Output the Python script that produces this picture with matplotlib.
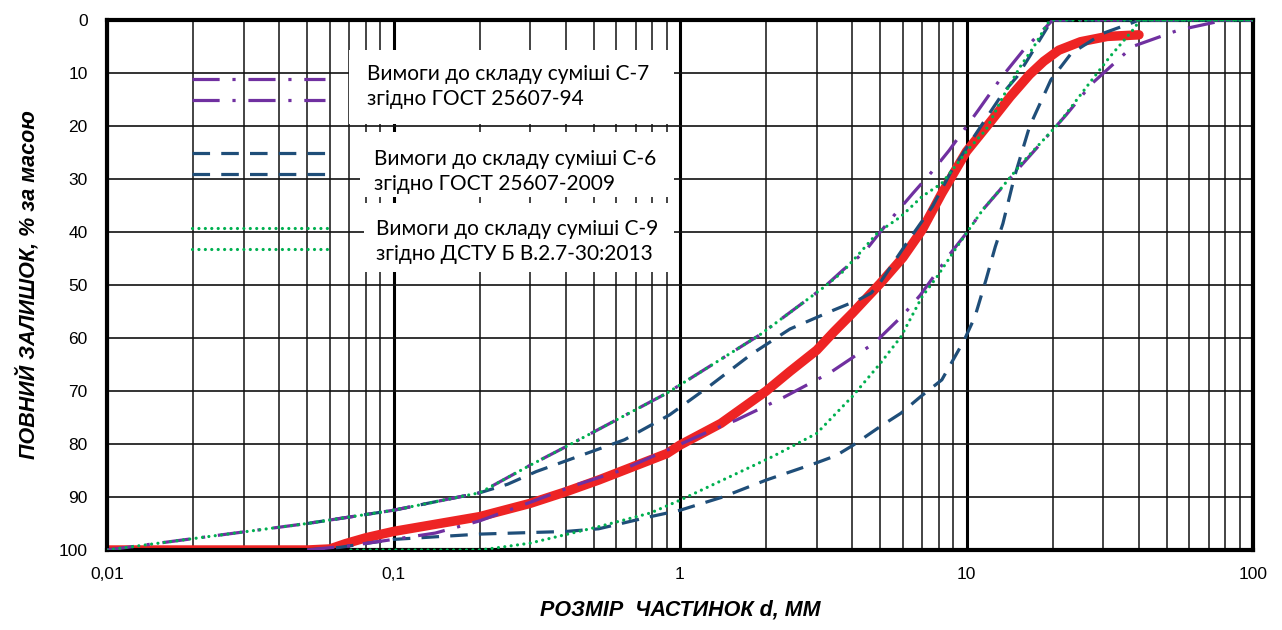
import matplotlib
matplotlib.use("Agg")
import matplotlib.pyplot as plt
from matplotlib.lines import Line2D
from matplotlib.patches import Rectangle
from matplotlib.ticker import LogLocator, NullFormatter

# particle size, mm / total retained, %
red_x = [0.01, 0.05, 0.06, 0.068, 0.08, 0.1, 0.2, 0.3, 0.4, 0.52, 0.9, 1.0, 1.39,
         2.0, 2.42, 3.0, 3.45, 4.0, 5.0, 6.0, 7.0, 8.2, 10, 12, 14.2, 16.6, 18.6,
         21, 25, 31, 40]
red_y = [100, 100, 99.8, 98.8, 97.7, 96.5, 93.7, 91.2, 89, 86.8, 81.8, 80.2, 76.1,
         70, 66.3, 62.3, 58.8, 55.3, 49.7, 44.8, 39.6, 32.7, 24.8, 19.5, 14.5, 10.3,
         7.8, 5.7, 4.1, 3.1, 2.8]

c7_top_x = [0.01, 0.05, 0.1, 0.2, 0.3, 0.4, 0.9, 1.9, 3.2, 3.7, 4.4, 5.0, 5.6,
            6.5, 7.5, 8.7, 11.0, 13.3, 15.8, 20, 100]
c7_top_y = [100, 95, 92.5, 89.2, 84, 80.5, 70.4, 59.4, 50.3, 47.2, 43.8, 40, 36.8,
            32.7, 28.9, 24.6, 17, 10.7, 5.7, 0, 0]
c7_bot_x = [0.05, 0.07, 0.1, 0.14, 0.2, 0.3, 0.43, 0.62, 0.96, 1.3, 1.57, 2.3,
            3.35, 4.78, 6.0, 6.9, 8.8, 10, 11.4, 15.2, 22.2, 27.4, 38, 55, 80, 100]
c7_bot_y = [100, 99.2, 98, 96.8, 94.5, 91, 87.8, 85, 80.5, 77.3, 75.5, 71.2,
            66.5, 60.9, 55.7, 51.9, 44, 40.2, 35.8, 28, 18, 12, 5, 1.9, 0, 0]

c6_top_x = [0.05, 0.1, 0.2, 0.25, 0.315, 0.64, 0.92, 1.28, 1.77, 2.42, 3.45, 4.2,
            4.65, 5.0, 6.2, 7.6, 8.9, 11.4, 13.4, 15, 16.6, 19.2, 20, 100]
c6_top_y = [95, 92.5, 89.2, 87.6, 85.2, 79.2, 74.5, 68.9, 63.1, 58.3, 54.7, 52.8,
            51.5, 49.5, 42, 35.2, 28.3, 19.5, 13.8, 10.7, 6.9, 1.3, 0, 0]
c6_bot_x = [0.05, 0.065, 0.1, 0.2, 0.4, 0.52, 0.79, 1.0, 1.41, 2.0, 2.98, 3.5,
            4.0, 5.0, 5.9, 6.9, 8.2, 9.8, 10.7, 11.7, 12.6, 13.4, 14.7, 16.6, 19.7,
            23.2, 30, 38, 40, 100]
c6_bot_y = [100, 99.5, 98, 97, 96.5, 96, 93.7, 92.5, 90, 86.8, 83.6, 82.2,
            80.3, 76.7, 74.2, 71.1, 67.9, 60.5, 56, 49, 42.8, 38.4, 29.6, 20.1, 11.3,
            6.3, 2.5, 0.5, 0, 0]

c9_top_x = [0.01, 0.05, 0.1, 0.2, 0.3, 0.4, 0.9, 1.9, 3.2, 3.7, 4.3, 4.9, 5.9,
            7.0, 8.2, 9.1, 10.1, 11.7, 13.4, 15.4, 17.2, 19.2, 20, 100]
c9_top_y = [100, 95, 92.5, 89.2, 84, 80.5, 70.4, 59.4, 50.3, 47.5, 43.6, 40.1, 37.1,
            33.3, 30.8, 27.7, 24.5, 20.7, 14.5, 8.8, 5, 0.6, 0, 0]
c9_bot_x = [0.071, 0.2, 0.236, 0.3, 0.52, 0.79, 1.0, 1.41, 2.1, 2.55, 3.0, 4.0,
            5.0, 5.9, 7.0, 7.9, 9.1, 10, 11.4, 13.1, 15.6, 21, 27.4, 31.7, 38.9,
            40, 100]
c9_bot_y = [100, 100, 99.5, 98.7, 95.6, 93, 90.6, 86.8, 82.4, 80, 78, 71,
            64.8, 59.8, 52.2, 48.4, 43.4, 40.2, 35.8, 32, 27, 19.5, 11.3, 6.9, 1.3,
            0, 0]

x_ticks = [0.01, 0.1, 1, 10, 100]
x_tick_labels = ["0,01", "0,1", "1", "10", "100"]
y_ticks = list(range(0, 101, 10))

legend_texts = [
    "Вимоги до складу суміші С-7\nзгідно ГОСТ 25607-94",
    "Вимоги до складу суміші С-6\nзгідно ГОСТ 25607-2009",
    "Вимоги до складу суміші С-9\nзгідно ДСТУ Б В.2.7-30:2013",
]

PURPLE = "#7030A0"
BLUE = "#1F4E79"
GREEN = "#00B050"
RED = "#EE2424"

W, H = 1282, 630
fig = plt.figure(figsize=(W / 100, H / 100), dpi=100)
ax = fig.add_axes([107 / W, 1 - 550 / H, (1253 - 107) / W, (550 - 20) / H])

ax.set_xscale("log")
ax.set_xlim(0.01, 100)
ax.set_ylim(100, 0)

# grid
ax.xaxis.set_minor_locator(LogLocator(base=10, subs=range(2, 10)))
ax.xaxis.set_minor_formatter(NullFormatter())
ax.grid(which="minor", axis="x", color="#111111", lw=1.1)
ax.grid(which="major", axis="x", color="#000000", lw=2.2)
ax.grid(which="major", axis="y", color="#111111", lw=1.2)
ax.set_axisbelow(True)

purple_style = dict(color=PURPLE, lw=2.3, linestyle=(0, (8.5, 4, 1, 4)))
blue_style = dict(color=BLUE, lw=2.3, linestyle=(0, (5.5, 3.5)))
green_style = dict(color=GREEN, lw=2.3, linestyle=(0, (0.01, 2.0)),
                   dash_capstyle="round")

ax.plot(red_x, red_y, color=RED, lw=6.8, solid_capstyle="round",
        solid_joinstyle="round", zorder=2)
ax.plot(c6_top_x, c6_top_y, **blue_style, zorder=3)
ax.plot(c6_bot_x, c6_bot_y, **blue_style, zorder=3)
ax.plot(c7_top_x, c7_top_y, **purple_style, zorder=4)
ax.plot(c7_bot_x, c7_bot_y, **purple_style, zorder=4)
ax.plot(c9_top_x, c9_top_y, **green_style, zorder=5)
ax.plot(c9_bot_x, c9_bot_y, **green_style, zorder=5)

ax.set_xticks(x_ticks)
ax.set_xticklabels(x_tick_labels)
ax.set_yticks(y_ticks)
ax.tick_params(which="both", length=0)
ax.tick_params(axis="x", pad=12)
ax.tick_params(axis="y", pad=14)
for lab in ax.get_xticklabels() + ax.get_yticklabels():
    lab.set_fontfamily("Liberation Sans")
    lab.set_fontsize(12.5)

for sp in ax.spines.values():
    sp.set_linewidth(3)

ax.set_xlabel("РОЗМІР  ЧАСТИНОК d, ММ", fontfamily="Liberation Sans",
              fontsize=15.5, fontweight="bold", fontstyle="italic", labelpad=13)
ax.set_ylabel("ПОВНИЙ ЗАЛИШОК, % за масою", fontfamily="Liberation Sans",
              fontsize=15.5, fontweight="bold", fontstyle="italic", labelpad=14)

# legend samples and text boxes
samples = [(purple_style, 79, 100, 325), (blue_style, 153, 174, 328),
           (green_style, 228, 249, 330)]
for style, y1, y2, xr in samples:
    for yy in (y1, y2):
        fig.add_artist(Line2D([192 / W, xr / W], [1 - yy / H, 1 - yy / H],
                              transform=fig.transFigure, **style))

boxes = [(349, 50, 674, 124, 367, 86.5), (360, 132, 674, 197, 374, 171.5),
         (364, 203, 674, 272, 376, 241.5)]
for (x0, y0, x1, y1, tx, ty), txt in zip(boxes, legend_texts):
    fig.add_artist(Rectangle((x0 / W, 1 - y1 / H), (x1 - x0) / W, (y1 - y0) / H,
                             transform=fig.transFigure, facecolor="white",
                             edgecolor="none"))
    fig.text(tx / W, 1 - ty / H, txt, fontfamily="Lato", fontsize=15,
             ha="left", va="center", linespacing=1.3)

fig.savefig("out.png", dpi=100)
